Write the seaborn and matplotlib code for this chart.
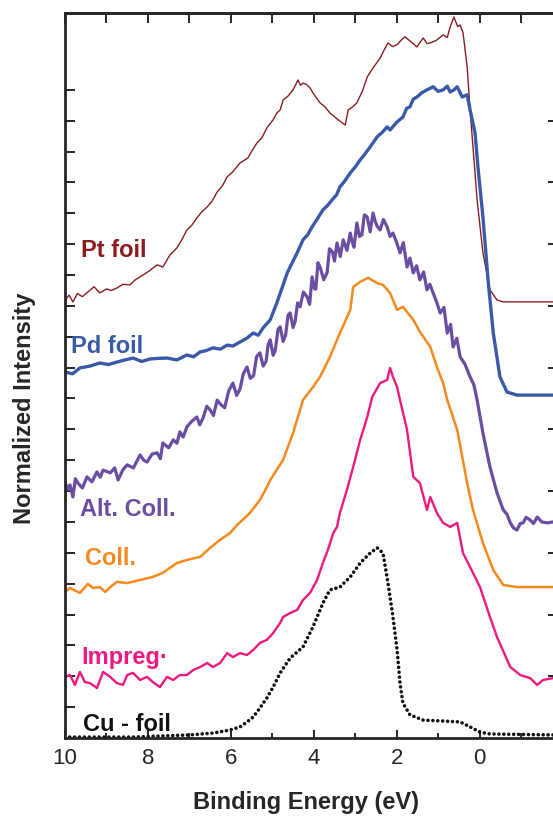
import matplotlib
matplotlib.use("Agg")
import matplotlib.pyplot as plt
import seaborn as sns
import pandas as pd

# valence band spectra
# (binding energy in eV, normalized intensity with vertical offsets)

pt_x = [10.0, 9.90, 9.81, 9.70, 9.58, 9.45, 9.30, 9.16, 9.00, 8.88, 8.75, 8.60,
        8.44, 8.30, 8.12, 7.95, 7.78, 7.64, 7.47, 7.30, 7.18, 7.06, 6.95,
        6.82, 6.70, 6.57, 6.45, 6.33, 6.20, 6.09, 5.95, 5.78, 5.59, 5.48, 5.37,
        5.25, 5.13, 4.98, 4.89, 4.81, 4.74, 4.62, 4.50, 4.38, 4.32, 4.26, 4.18,
        4.09, 3.97, 3.85, 3.73, 3.61, 3.43, 3.24, 3.17, 3.06, 2.96, 2.83, 2.71,
        2.55, 2.40, 2.30, 2.21, 2.10, 1.99, 1.90, 1.80, 1.65, 1.51, 1.43, 1.36,
        1.27, 1.19, 1.05, 0.88, 0.78, 0.71, 0.62, 0.53, 0.47, 0.40, 0.30, 0.23,
        0.06, -0.08, -0.25, -0.42, -0.57, -1.77]
pt_y = [14.19, 14.35, 14.13, 14.40, 14.30, 14.45, 14.62, 14.42, 14.55, 14.50, 14.58, 14.70,
        14.68, 14.85, 15.00, 15.15, 15.33, 15.26, 15.65, 15.88, 16.15, 16.46, 16.60,
        16.85, 17.05, 17.21, 17.40, 17.69, 17.90, 18.18, 18.35, 18.63, 18.79, 19.05, 19.28,
        19.45, 19.77, 20.03, 20.25, 20.35, 20.67, 20.80, 21.00, 21.32, 21.15, 21.22, 21.18,
        21.06, 20.80, 20.58, 20.45, 20.25, 20.05, 19.86, 20.35, 20.45, 20.58, 20.95, 21.42,
        21.75, 22.03, 22.30, 22.52, 22.40, 22.46, 22.60, 22.72, 22.55, 22.39, 22.55, 22.68,
        22.50, 22.52, 22.60, 22.78, 22.70, 23.04, 23.36, 23.05, 23.10, 22.85, 21.74, 20.35,
        17.43, 15.72, 14.52, 14.19, 14.13, 14.13]

pd_x = [10.0, 9.82, 9.64, 9.40, 9.16, 8.95, 8.75, 8.55, 8.36, 8.15, 7.95, 7.75,
        7.54, 7.30, 7.06, 6.90, 6.74, 6.60, 6.43, 6.25, 6.09, 5.95, 5.78, 5.62,
        5.46, 5.34, 5.22, 5.05, 4.89, 4.76, 4.64, 4.52, 4.40, 4.26, 4.15, 4.04,
        3.90, 3.78, 3.67, 3.56, 3.45, 3.37, 3.25, 3.12, 3.00, 2.88, 2.75, 2.64,
        2.47, 2.35, 2.23, 2.16, 2.00, 1.85, 1.76, 1.68, 1.60, 1.51, 1.40, 1.27,
        1.12, 1.00, 0.88, 0.78, 0.71, 0.62, 0.54, 0.42, 0.30, 0.23, 0.11, 0.04,
        -0.08, -0.21, -0.33, -0.49, -0.66, -0.90, -1.77]
pd_y = [11.86, 11.80, 11.99, 12.05, 12.15, 12.10, 12.18, 12.25, 12.31, 12.20, 12.28, 12.30,
        12.31, 12.25, 12.41, 12.35, 12.51, 12.55, 12.64, 12.60, 12.73, 12.70, 12.83, 12.95,
        13.12, 13.05, 13.29, 13.55, 14.10, 14.60, 15.07, 15.40, 15.72, 16.14, 16.30, 16.56,
        16.85, 17.11, 17.25, 17.43, 17.60, 17.85, 18.05, 18.31, 18.50, 18.73, 18.95, 19.15,
        19.48, 19.62, 19.80, 19.70, 19.95, 20.12, 20.40, 20.45, 20.70, 20.77, 20.90, 21.00,
        21.10, 20.95, 21.00, 21.12, 20.93, 21.00, 21.10, 20.77, 20.84, 20.35, 19.60, 18.50,
        16.88, 14.74, 13.12, 11.70, 11.21, 11.11, 11.11]

alt_x = [10.0, 9.94, 9.88, 9.81, 9.75, 9.69, 9.58, 9.47, 9.35, 9.23, 9.15, 9.08,
         8.91, 8.80, 8.72, 8.60, 8.50, 8.35, 8.19, 8.10, 8.02, 7.90, 7.78, 7.70,
         7.64, 7.50, 7.39, 7.30, 7.23, 7.15, 7.06, 6.95, 6.82, 6.75, 6.67, 6.58,
         6.50, 6.42, 6.33, 6.24, 6.15, 6.05, 5.95, 5.86, 5.78, 5.70, 5.61, 5.53,
         5.45, 5.38, 5.30, 5.22, 5.15, 5.10, 5.05, 4.98, 4.93, 4.86, 4.81, 4.74,
         4.68, 4.62, 4.57, 4.50, 4.45, 4.39, 4.33, 4.25, 4.16, 4.10, 4.04, 3.98,
         3.95, 3.90, 3.85, 3.76, 3.68, 3.62, 3.55, 3.50, 3.44, 3.36, 3.29, 3.20,
         3.12, 3.08, 3.03, 2.96, 2.90, 2.84, 2.78, 2.71, 2.64, 2.57, 2.52, 2.48,
         2.40, 2.32, 2.23, 2.16, 2.09, 2.00, 1.92, 1.84, 1.75, 1.68, 1.60, 1.52,
         1.44, 1.35, 1.27, 1.20, 1.12, 1.03, 0.95, 0.86, 0.78, 0.70, 0.64, 0.55,
         0.47, 0.35, 0.23, 0.14, 0.06, -0.08, -0.25, -0.42, -0.57, -0.66, -0.74,
         -0.82, -0.90, -0.98, -1.05, -1.12, -1.22, -1.30, -1.39, -1.50, -1.63, -1.77]
alt_y = [8.30, 8.05, 8.20, 7.81, 8.40, 8.26, 8.10, 8.46, 8.30, 8.62, 8.45, 8.68,
         8.59, 8.75, 8.36, 8.70, 8.85, 8.75, 9.17, 9.00, 8.94, 9.20, 9.24, 9.05,
         9.56, 9.40, 9.66, 9.55, 9.92, 9.75, 10.08, 10.25, 10.40, 10.15, 10.37, 10.75,
         10.63, 10.45, 10.95, 10.80, 10.70, 11.25, 11.50, 11.10, 11.30, 11.80, 12.02, 11.65,
         11.75, 12.35, 12.48, 12.05, 12.20, 12.75, 12.90, 12.40, 12.55, 13.25, 13.32, 12.85,
         13.05, 13.70, 13.77, 13.30, 13.50, 14.10, 13.97, 14.45, 14.29, 14.05, 14.94, 14.55,
         14.55, 15.40, 15.26, 14.85, 15.07, 15.85, 15.75, 15.45, 16.04, 15.60, 16.14, 15.80,
         16.36, 16.10, 15.90, 16.69, 16.25, 16.30, 16.95, 16.88, 16.40, 17.01, 16.75, 16.60,
         16.46, 16.80, 16.56, 16.25, 16.36, 16.05, 15.72, 16.05, 15.26, 15.55, 15.07, 15.30,
         14.84, 15.10, 14.52, 14.70, 14.42, 14.10, 13.77, 13.95, 13.12, 13.40, 12.67, 12.95,
         12.35, 12.10, 11.70, 11.45, 10.95, 9.88, 8.78, 7.94, 7.39, 7.25, 6.97, 6.80,
         6.74, 6.95, 6.97, 7.15, 7.06, 6.95, 7.16, 7.00, 6.97, 7.00]

coll_x = [10.0, 9.88, 9.64, 9.45, 9.32, 9.16, 9.03, 8.88, 8.75, 8.50, 8.19, 7.88, 7.64,
          7.47, 7.30, 7.06, 6.74, 6.50, 6.26, 6.02, 5.85, 5.54, 5.30, 5.13, 5.05,
          4.74, 4.50, 4.26, 4.02, 3.85, 3.61, 3.37, 3.12, 3.05, 2.88, 2.69, 2.47,
          2.33, 2.16, 1.99, 1.85, 1.60, 1.44, 1.19, 1.03, 0.88, 0.78, 0.54, 0.30,
          0.16, -0.08, -0.33, -0.57, -0.90, -1.77]
coll_y = [4.73, 4.86, 4.70, 4.99, 4.86, 4.89, 4.73, 4.92, 5.06, 5.02, 5.12, 5.22, 5.35,
          5.51, 5.67, 5.77, 5.87, 6.16, 6.42, 6.64, 6.90, 7.29, 7.71, 8.13, 8.36,
          9.01, 9.88, 10.95, 11.37, 11.70, 12.35, 13.12, 13.87, 14.61, 14.78, 14.91, 14.74,
          14.68, 14.42, 13.87, 13.97, 13.55, 13.16, 12.67, 12.02, 11.50, 10.95, 9.98, 8.26,
          7.39, 6.32, 5.44, 4.96, 4.89, 4.89]

imp_x = [10.0, 9.88, 9.76, 9.64, 9.52, 9.40, 9.23, 9.08, 8.91, 8.75, 8.60, 8.50,
         8.36, 8.19, 8.02, 7.88, 7.71, 7.54, 7.39, 7.23, 7.06, 6.91, 6.74, 6.57,
         6.43, 6.26, 6.09, 5.95, 5.78, 5.61, 5.46, 5.30, 5.13, 4.98, 4.81, 4.74,
         4.57, 4.40, 4.26, 4.09, 3.92, 3.78, 3.66, 3.53, 3.44, 3.37, 3.20, 3.05,
         2.88, 2.71, 2.59, 2.40, 2.23, 2.16, 2.09, 1.99, 1.92, 1.75, 1.60, 1.44,
         1.27, 1.19, 1.03, 0.88, 0.71, 0.54, 0.40, 0.23, -0.01, -0.25, -0.42, -0.74,
         -0.98, -1.22, -1.39, -1.53, -1.77]
imp_y = [1.98, 2.04, 1.72, 2.14, 1.81, 1.78, 1.62, 2.14, 1.98, 1.78, 1.72, 2.04,
         2.11, 1.88, 1.98, 1.81, 1.65, 1.98, 1.88, 2.04, 2.04, 2.20, 2.30, 2.43,
         2.30, 2.43, 2.75, 2.62, 2.75, 2.69, 2.85, 3.08, 3.18, 3.40, 3.73, 3.92,
         4.05, 4.15, 4.47, 4.70, 5.12, 5.67, 6.09, 6.64, 6.84, 7.29, 8.04, 8.78,
         9.66, 10.40, 11.05, 11.50, 11.60, 11.99, 11.70, 11.37, 10.95, 9.98, 8.46, 8.26,
         7.39, 7.81, 7.29, 6.97, 6.84, 6.97, 5.99, 5.54, 4.89, 3.92, 3.27, 2.30,
         2.04, 1.94, 1.72, 1.88, 1.94]

cu_x = [10.0, 8.36, 6.98, 6.43, 6.02, 5.78, 5.61, 5.46, 5.30, 5.13, 4.98, 4.81,
        4.57, 4.26, 4.02, 3.78, 3.61, 3.37, 3.12, 2.88, 2.64, 2.47, 2.33, 2.21,
        2.09, 1.99, 1.92, 1.85, 1.68, 1.36, 0.88, 0.47, 0.23, -0.01, -0.25, -1.77]
cu_y = [0.03, 0.03, 0.10, 0.16, 0.26, 0.36, 0.52, 0.68, 0.97, 1.30, 1.65, 2.11,
        2.59, 2.95, 3.60, 4.37, 4.80, 4.89, 5.22, 5.67, 5.99, 6.16, 5.99, 5.02,
        3.92, 2.85, 1.78, 1.13, 0.75, 0.58, 0.55, 0.52, 0.36, 0.19, 0.13, 0.10]

names = ["Pt foil", "Pd foil", "Alt. Coll.", "Coll.", "Impreg·", "Cu - foil"]
colors = ["#8c1c1f", "#3a5aa8", "#6a4ea2", "#f7891f", "#ec1a80", "#111111"]
widths = [1.0, 2.4, 2.3, 1.8, 1.7, 2.6]
all_x = [pt_x, pd_x, alt_x, coll_x, imp_x, cu_x]
all_y = [pt_y, pd_y, alt_y, coll_y, imp_y, cu_y]

# label anchors (data coords)
label_pos = [(9.61, 15.81), (9.86, 12.70), (9.64, 7.39), (9.52, 5.80), (9.61, 2.62), (9.57, 0.45)]

sns.set_style("ticks")
plt.rcParams["font.family"] = ["Liberation Sans", "DejaVu Sans"]

fig = plt.figure(figsize=(5.53, 8.17), dpi=100)
ax = fig.add_axes([65 / 553, 79 / 817, 488 / 553, 725 / 817])

for name, xs, ys, c, lw in zip(names, all_x, all_y, colors, widths):
    df = pd.DataFrame({"energy": xs, "intensity": ys})
    if name == "Cu - foil":
        sns.lineplot(data=df, x="energy", y="intensity", ax=ax, color=c, lw=lw,
                     estimator=None, linestyle=(0, (0.01, 1.35)),
                     dash_capstyle="round")
    else:
        sns.lineplot(data=df, x="energy", y="intensity", ax=ax, color=c, lw=lw,
                     estimator=None)

for name, (tx, ty), c in zip(names, label_pos, colors):
    ax.text(tx, ty, name, color=c, fontsize=17, fontweight="bold",
            ha="left", va="center")

ax.set_xlim(10, -1.77)
ax.set_ylim(0, 23.49)

ax.set_xticks([10, 8, 6, 4, 2, 0])
ax.set_xticks([9, 7, 5, 3, 1, -1], minor=True)
ax.set_yticks(range(1, 22))
ax.set_yticklabels([])
ax.tick_params(axis="x", which="major", direction="in", length=6, width=1.4,
               labelsize=16, pad=7)
ax.tick_params(axis="x", which="minor", direction="in", length=3.6, width=1.4)
ax.tick_params(axis="y", direction="in", length=7, width=1.4)

top = ax.secondary_xaxis("top")
top.set_xticks(range(-1, 11))
top.tick_params(direction="in", length=7, width=1.4, labeltop=False)
top.spines["top"].set_linewidth(2)

right = ax.secondary_yaxis("right")
right.set_yticks(range(2, 21, 2))
right.tick_params(direction="in", length=3.5, width=1.4, labelright=False)
right.spines["right"].set_visible(False)

for s in ["left", "bottom", "top"]:
    ax.spines[s].set_linewidth(2)
ax.spines["right"].set_visible(False)

ax.set_xlabel("Binding Energy (eV)", fontsize=17, fontweight="bold")
ax.set_ylabel("Normalized Intensity", fontsize=17, fontweight="bold")
ax.xaxis.set_label_coords(0.494, -0.073)
ax.yaxis.set_label_coords(-0.059, 0.455)

fig.savefig("out.png", dpi=100)
